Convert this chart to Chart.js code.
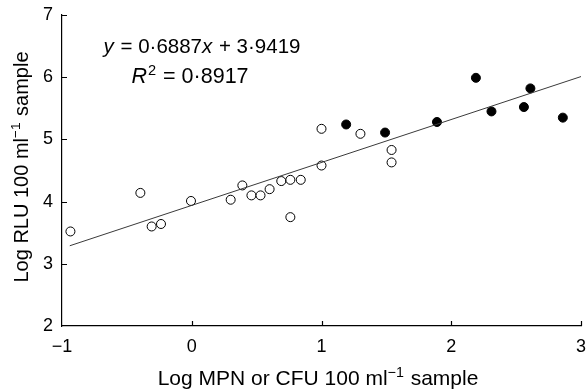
<!DOCTYPE html>
<html>
<head>
<meta charset="utf-8">
<script src="https://cdn.jsdelivr.net/npm/chart.js@4.4.0/dist/chart.umd.min.js"></script>
<style>
  body { margin: 0; background: #fff; }
  canvas { display: block; }
</style>
</head>
<body>
<canvas id="chart" width="588" height="392"></canvas>
<script>
// open circles
const openX = [-0.935, -0.396, -0.309, -0.237, -0.006, 0.30, 0.39, 0.46, 0.53, 0.60, 0.69, 0.76, 0.76, 0.84, 1.00, 1.00, 1.30, 1.54, 1.54];
const openY = [3.52, 4.14, 3.60, 3.64, 4.01, 4.03, 4.26, 4.10, 4.10, 4.20, 4.33, 4.35, 3.75, 4.35, 5.17, 4.58, 5.09, 4.83, 4.63];
// filled circles
const filledX = [1.19, 1.49, 1.89, 2.19, 2.31, 2.56, 2.61, 2.86];
const filledY = [5.24, 5.11, 5.28, 5.99, 5.45, 5.52, 5.82, 5.35];
// regression line y = 0.6887x + 3.9419
const fitX = [-0.94, 3];
const fitY = [3.29, 6.01];
const xTicks = [-1, 0, 1, 2, 3];
const yTicks = [2, 3, 4, 5, 6, 7];

const FONT = '"Liberation Sans", Arial, sans-serif';

function toPoints(xs, ys) {
  return xs.map((x, i) => ({ x: x, y: ys[i] }));
}

// draws text made of parts, some italic or superscript
function drawRich(ctx, parts, x, y, size, align) {
  const widths = parts.map((p) => {
    const s = p.sup ? size * 0.68 : size;
    ctx.font = (p.italic ? "italic " : "") + s + "px " + FONT;
    return ctx.measureText(p.t).width + (p.gap || 0);
  });
  const total = widths.reduce((a, b) => a + b, 0);
  let cx = align === "center" ? x - total / 2 : x;
  parts.forEach((p, i) => {
    const s = p.sup ? size * 0.68 : size;
    ctx.font = (p.italic ? "italic " : "") + s + "px " + FONT;
    ctx.fillText(p.t, cx, p.sup ? y - size * 0.38 : y);
    cx += widths[i];
  });
}

const extras = {
  id: "extras",
  afterDraw(chart) {
    const ctx = chart.ctx;
    const xs = chart.scales.x;
    const ys = chart.scales.y;
    const area = chart.chartArea;
    ctx.save();
    // inward tick marks
    ctx.strokeStyle = "#000";
    ctx.lineWidth = 1.2;
    ctx.beginPath();
    yTicks.slice(1).forEach((v) => {
      const py = Math.round(ys.getPixelForValue(v)) + 0.5;
      ctx.moveTo(area.left, py);
      ctx.lineTo(area.left + 5, py);
    });
    xTicks.slice(1).forEach((v) => {
      const px = Math.round(xs.getPixelForValue(v)) + 0.5;
      ctx.moveTo(px, area.bottom);
      ctx.lineTo(px, area.bottom - 5);
    });
    ctx.stroke();

    ctx.fillStyle = "#000";
    ctx.textBaseline = "alphabetic";
    ctx.textAlign = "left";
    // equation
    drawRich(ctx, [
      { t: "y", italic: true, gap: 1 },
      { t: " = 0\u00b76887" },
      { t: "x", italic: true, gap: 1 },
      { t: " + 3\u00b79419" },
    ], 202, 53, 20.5, "center");
    drawRich(ctx, [
      { t: "R", italic: true, gap: 1 },
      { t: "2", sup: true, gap: 1 },
      { t: " = 0\u00b78917" },
    ], 190, 83, 21.5, "center");

    // axis titles
    drawRich(ctx, [
      { t: "Log MPN or CFU 100 ml" },
      { t: "\u22121", sup: true, gap: 1 },
      { t: " sample" },
    ], 318, 385, 21, "center");
    ctx.translate(28, 167);
    ctx.rotate(-Math.PI / 2);
    drawRich(ctx, [
      { t: "Log RLU 100 ml" },
      { t: "\u22121", sup: true, gap: 1 },
      { t: " sample" },
    ], 0, 0, 20, "center");
    ctx.restore();
  },
};

new Chart(document.getElementById("chart"), {
  type: "scatter",
  data: {
    datasets: [
      {
        type: "line",
        data: toPoints(fitX, fitY),
        borderColor: "#3a3a3a",
        borderWidth: 1,
        pointRadius: 0,
        fill: false,
      },
      {
        data: toPoints(openX, openY),
        pointRadius: 4.5,
        pointBackgroundColor: "#fff",
        pointBorderColor: "#000",
        pointBorderWidth: 1,
      },
      {
        data: toPoints(filledX, filledY),
        pointRadius: 4.5,
        pointBackgroundColor: "#000",
        pointBorderColor: "#000",
        pointBorderWidth: 1,
      },
    ],
  },
  options: {
    responsive: false,
    devicePixelRatio: 1,
    animation: false,
    layout: { padding: { top: 15, right: 7, left: 0, bottom: 0 } },
    plugins: { legend: { display: false }, tooltip: { enabled: false } },
    scales: {
      x: {
        type: "linear",
        min: -1,
        max: 3,
        afterFit: (s) => {
          s.height = 66;
          s.paddingLeft = 0;
          s.paddingRight = 0;
        },
        afterBuildTicks: (s) => { s.ticks = xTicks.map((v) => ({ value: v })); },
        grid: { display: false, drawTicks: false },
        border: { display: true, color: "#000", width: 1.2 },
        ticks: {
          padding: 10,
          color: "#000",
          font: { family: FONT, size: 18 },
          callback: (v) => (v < 0 ? "\u2212" + Math.abs(v) : String(v)),
        },
      },
      y: {
        type: "linear",
        min: 2,
        max: 7,
        afterFit: (s) => {
          s.width = 62;
          s.paddingTop = 0;
          s.paddingBottom = 0;
        },
        afterBuildTicks: (s) => { s.ticks = yTicks.map((v) => ({ value: v })); },
        grid: { display: false, drawTicks: false },
        border: { display: true, color: "#000", width: 1.2 },
        ticks: {
          padding: 9,
          color: "#000",
          font: { family: FONT, size: 18 },
        },
      },
    },
  },
  plugins: [extras],
});
</script>
</body>
</html>
